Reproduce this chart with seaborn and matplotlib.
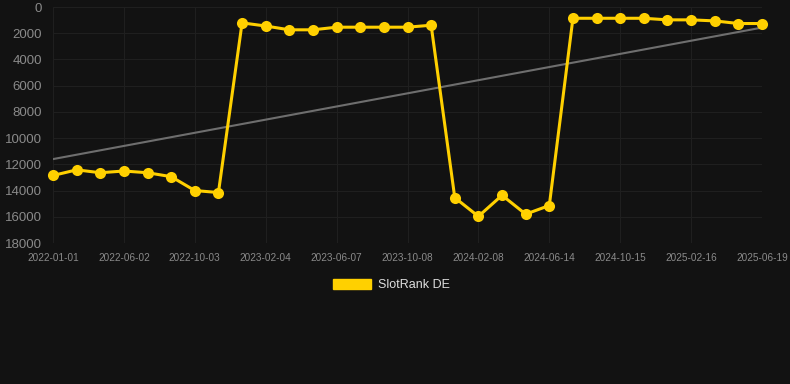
import numpy as np
import pandas as pd
import matplotlib
matplotlib.use("Agg")
import matplotlib.pyplot as plt
import matplotlib.patches as mpatches
import seaborn as sns

# ─────────────────────────────────────────────
# DATA
# ─────────────────────────────────────────────
TICK_DATES = ["2022-01-01", "2022-06-02", "2022-10-03", "2023-02-04",
              "2023-06-07", "2023-10-08", "2024-02-08", "2024-06-14",
              "2024-10-15", "2025-02-16", "2025-06-19"]

RANKS = [12850, 12420, 12640, 12510, 12640, 12940, 14000, 14150,
         1210, 1450, 1740, 1740, 1540, 1540, 1540, 1540, 1390,
         14540, 15970, 14360, 15800, 15140,
         860, 860, 860, 860, 980, 980, 1060, 1260, 1260]

TREND_START, TREND_END = 11600, 1570

BG = "#121212"
GOLD = "#FFD000"

sns.set_theme(style="dark")
plt.rcParams["font.family"] = ["Liberation Sans", "DejaVu Sans"]

df = pd.DataFrame({"idx": np.arange(len(RANKS)), "rank": RANKS})

fig = plt.figure(figsize=(7.9, 3.84), dpi=100, facecolor=BG)
ax = fig.add_axes([53 / 790, 1 - 243 / 384, (762 - 53) / 790, (243 - 7) / 384])
ax.set_facecolor(BG)

# trend line
ax.plot([df["idx"].iloc[0], df["idx"].iloc[-1]], [TREND_START, TREND_END],
        color="#6e6e6e", linewidth=1.5, zorder=2)

sns.lineplot(data=df, x="idx", y="rank", ax=ax, color=GOLD, linewidth=2.2,
             marker="o", markersize=8, markeredgewidth=0, zorder=3,
             clip_on=False)

ax.set_xlim(0, len(RANKS) - 1)
ax.set_ylim(18000, 0)
ax.set_yticks(np.arange(0, 18001, 2000))
ax.set_xticks(np.arange(0, len(RANKS), 3))
ax.set_xticklabels(TICK_DATES)
ax.set_xlabel("")
ax.set_ylabel("")

ax.grid(True, color="#1f1f1f", linewidth=0.8)
for s in ax.spines.values():
    s.set_visible(False)
ax.tick_params(axis="y", colors="#8a8a8a", labelsize=9.5, length=0, pad=8)
ax.tick_params(axis="x", colors="#8a8a8a", labelsize=7.2, length=0, pad=7)

handle = mpatches.Patch(color=GOLD, label="SlotRank DE")
leg = fig.legend(handles=[handle], loc="center", bbox_to_anchor=(0.495, 1 - 285 / 384),
                 frameon=False, fontsize=9, handlelength=3.1, handleheight=0.9,
                 handletextpad=0.5)
for t in leg.get_texts():
    t.set_color("#dddddd")

fig.savefig("out.png", dpi=100, facecolor=BG)
